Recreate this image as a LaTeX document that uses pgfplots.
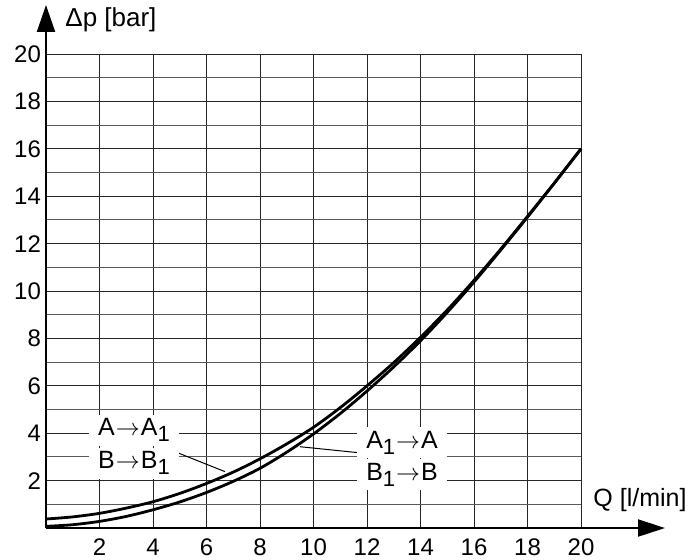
\documentclass[border=0pt]{standalone}
\usepackage{fontspec}
\setmainfont{Liberation Sans}
\usepackage{pgfplots}
\pgfplotsset{compat=1.18}
\usetikzlibrary{arrows.meta}
\newcommand{\sub}[1]{{\fontsize{11}{12}\selectfont\raisebox{-0.5ex}{#1}}}
\newcommand{\ar}{\kern0.5pt$\rightarrow$\kern0.5pt}
\begin{document}
\begin{tikzpicture}
\begin{axis}[
  scale only axis, width=267.5pt, height=237pt,
  xmin=0, xmax=20, ymin=0, ymax=20,
  axis line style={draw=none},
  xtick={2,4,...,20}, ytick={2,4,...,20}, minor ytick={1,3,...,19},
  grid=both,
  major grid style={black!85, line width=0.5pt},
  minor grid style={black!65, line width=0.5pt},
  tick style={draw=none},
  ticklabel style={font=\fontsize{12}{14}\selectfont},
  xticklabel style={yshift=-2pt},
  yticklabel style={xshift=1pt},
  /pgf/number format/assume math mode=true,
  clip=false,
]
\addplot[black, line width=1.4pt, smooth] coordinates {
(0,0.38) (1,0.47) (2,0.62) (3,0.84) (4,1.11) (5,1.46) (6,1.88) (7,2.36) (8,2.92) (9,3.55) (10,4.25) (11,5.08) (12,6.0) (13,6.98) (14,8.05) (15,9.2) (16,10.45) (17,11.77) (18,13.15) (19,14.55) (20,16.0)};
\addplot[black, line width=1.4pt, smooth] coordinates {
(0,0.07) (1,0.14) (2,0.28) (3,0.49) (4,0.77) (5,1.1) (6,1.5) (7,1.97) (8,2.52) (9,3.2) (10,3.97) (11,4.83) (12,5.78) (13,6.8) (14,7.9) (15,9.1) (16,10.38) (17,11.73) (18,13.12) (19,14.55) (20,16.0)};
% axes with arrows
\draw[line width=1pt, -{Triangle[length=13.5pt,width=8.5pt]}] (axis cs:0,0) -- (axis cs:23.14,0);
\draw[line width=1pt, -{Triangle[length=13.5pt,width=9pt]}] (axis cs:0,0) -- (axis cs:0,22.07);
\node[anchor=west, font=\fontsize{13}{15}\selectfont, inner sep=0pt] at (axis cs:0.71,21.43) {Δp [bar]};
\node[anchor=west, font=\fontsize{12.5}{14}\selectfont, inner sep=0pt] at (axis cs:20.45,1.18) {Q [l/min]};
% leader lines
\draw[line width=0.5pt] (axis cs:4.51,3.36) -- (axis cs:6.69,2.38);
\draw[line width=0.5pt] (axis cs:9.50,3.43) -- (axis cs:11.93,3.15);
% labels
\node[fill=white, inner xsep=4.5pt, inner ysep=2pt, font=\fontsize{12.5}{14}\selectfont] at (axis cs:3.29,4.13) {A\ar A\sub{1}};
\node[fill=white, inner xsep=4.5pt, inner ysep=2pt, font=\fontsize{12.5}{14}\selectfont] at (axis cs:3.29,2.74) {B\ar B\sub{1}};
\node[fill=white, inner xsep=4.5pt, inner ysep=2pt, font=\fontsize{12.5}{14}\selectfont] at (axis cs:13.31,3.59) {A\sub{1}\ar A};
\node[fill=white, inner xsep=4.5pt, inner ysep=2pt, font=\fontsize{12.5}{14}\selectfont] at (axis cs:13.31,2.24) {B\sub{1}\ar B};
\coordinate (bl) at (axis cs:-1.72,-1.34);
\coordinate (tr) at (axis cs:24.0,22.28);
\end{axis}
\pgfresetboundingbox
\path (bl) rectangle (tr);
\end{tikzpicture}
\end{document}
